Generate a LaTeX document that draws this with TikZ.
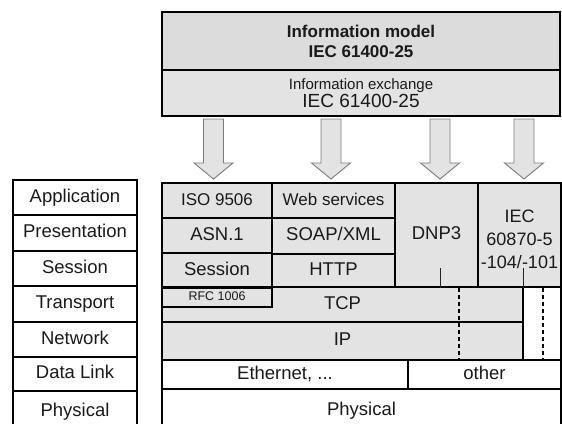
\documentclass[tikz,border=0pt]{standalone}
\usepackage{fontspec}
\setmainfont{Liberation Sans}
\begin{document}
\begin{tikzpicture}[x=1pt,y=-1pt,
  cellbox/.style={draw=black, line width=1.8pt, fill=cellgray, inner sep=0pt,
    text=txt, font=\fontsize{18.5}{22}\selectfont,
    text height=13.4pt, text depth=3.6pt},
  whitebox/.style={fill=white},
  osibox/.style={draw=black, line width=1.4pt, fill=white, inner sep=0pt,
    text=txt, font=\fontsize{18.5}{22}\selectfont,
    text height=13.4pt, text depth=3.6pt},
  multi/.style={align=center, text height=, text depth=},
  flowarrow/.style={draw=arrowline, line width=0.9pt, fill=cellgray, line join=miter},
  stub/.style={draw=black!85, line width=0.9pt},
  dashsep/.style={draw=black, line width=1.6pt, dash pattern=on 4pt off 3pt}
]
\definecolor{cellgray}{HTML}{E3E3E3}
\definecolor{topgray}{HTML}{DCDCDC}
\definecolor{txt}{HTML}{1A1A1A}
\definecolor{arrowline}{HTML}{7A7A7A}

\useasboundingbox (0,0) rectangle (562,423);
\clip (0,0) rectangle (562,423);
\fill[white] (0,0) rectangle (562,423);

% cell helper: [style]{name}{x1}{y1}{x2}{y2}{text}
\newcommand\cell[7][]{%
  \pgfmathsetmacro\cw{#5-#3}\pgfmathsetmacro\ch{#6-#4}%
  \node[cellbox,#1,minimum width=\cw pt,minimum height=\ch pt] (#2)
    at ({(#3+#5)/2},{(#4+#6)/2}) {#7};}

% information model and exchange
\cell[fill=topgray,line width=2.6pt,multi,font=\fontsize{17}{20}\selectfont\bfseries]
  {model}{162}{12}{560}{70}{Information model\\IEC 61400-25}
\cell[multi,font=\fontsize{15}{18}\selectfont]
  {exchange}{162}{70}{560}{116}{Information exchange\\{\fontsize{19}{19}\selectfont IEC 61400-25}}

% mapping arrows
\foreach \ax/\an in {213.5/a1, 331/a2, 440/a3, 524/a4}{
  \path[flowarrow] (\ax-10,119) -- (\ax+10,119) -- (\ax+10,163) -- (\ax+19.5,163)
    -- (\ax,179) -- (\ax-19.5,163) -- (\ax-10,163) -- cycle;
}

% OSI reference model
\foreach \n/\t/\ya/\yb in {
  osiA/Application/180/215, osiP/Presentation/215/251, osiS/Session/251/286,
  osiT/Transport/286/322, osiN/Network/322/357, osiD/Data Link/357/391}{
  \cell[osibox]{\n}{13}{\ya}{137}{\yb}{\t}
}
\cell[osibox,overlay]{osiPh}{13}{391}{137}{432}{Physical}

% protocol stacks
\cell[font=\fontsize{17}{20}\selectfont]{iso}{162}{183}{272}{218}{ISO 9506}
\cell{asn}{162}{218}{272}{253}{ASN.1}
\cell{sess}{162}{253}{272}{288}{Session}
\cell[font=\fontsize{17}{20}\selectfont]{web}{272}{183}{395}{218}{Web services}
\cell{soap}{272}{218}{395}{254}{SOAP/XML}
\cell{http}{272}{254}{395}{287}{HTTP}
\cell{dnp}{395}{183}{478}{287}{DNP3}
\cell[multi,font=\fontsize{18}{23}\selectfont]{iec}{478}{183}{561}{287}{\\[-2pt]IEC\\60870-5\\-104/-101}
\cell{tcp}{162}{287}{523}{322}{TCP}
\cell[font=\fontsize{12.5}{14}\selectfont,text height=9pt,text depth=2.5pt]{rfc}{162}{288}{272}{307}{RFC 1006}
\cell{ip}{162}{322}{523}{360}{IP}
\cell[whitebox]{eth}{162}{360}{408}{389}{Ethernet, ...}
\cell[whitebox]{other}{408}{360}{561}{389}{other}
\cell[whitebox,overlay]{phys}{162}{389}{561}{432}{Physical}

% links of DNP3 and IEC 60870-5 down to the transport layers
\coordinate (dnpstub) at (440,268);
\coordinate (iecstub) at (523,268);
\draw[stub] (dnpstub) -- (dnpstub |- dnp.south);
\draw[stub] (iecstub) -- (iecstub |- iec.south);
\coordinate (dnpdash) at (459,288);
\coordinate (iecdash) at (543,288);
\draw[dashsep] (dnpdash) -- (dnpdash |- ip.south);
\draw[dashsep] (iecdash) -- (iecdash |- ip.south);

% outer frame of the stack
\draw[line width=1.8pt,overlay] (162,183) -- (561,183) -- (561,432);
\end{tikzpicture}
\end{document}
